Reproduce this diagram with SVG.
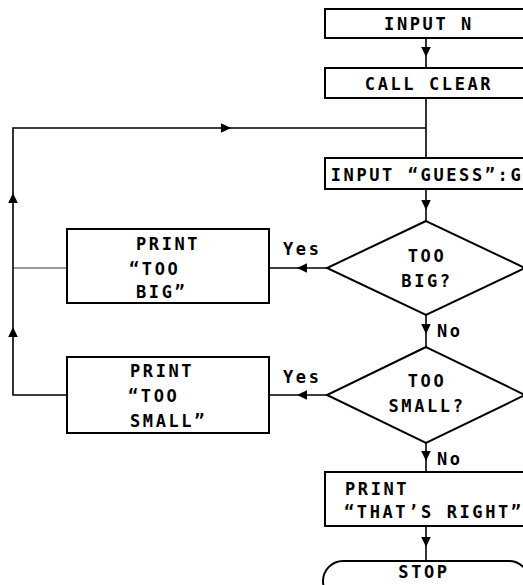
<svg xmlns="http://www.w3.org/2000/svg" xmlns:xlink="http://www.w3.org/1999/xlink" width="523" height="585" viewBox="0 0 523 585">
<style>
.box{fill:#fff;stroke:#000;stroke-width:2}
.ln{fill:none;stroke:#000;stroke-width:1.6}
.thin{fill:none;stroke:#333;stroke-width:1.2}
.t{font-family:"DejaVu Sans Mono","Liberation Mono",monospace;font-weight:bold;font-size:17px;letter-spacing:2.6px;fill:#000}
.c{text-anchor:middle}
</style>
<defs>
<path id="ah" d="M0,0 L-10,-4.8 L-10,4.8 Z" fill="#000"/>
</defs>
<rect width="523" height="585" fill="#fff"/>
<g id="connectors">
<path class="ln" d="M426,38 V68"/>
<use xlink:href="#ah" transform="translate(426,57) rotate(90)"/>
<path class="ln" d="M426,98 V158"/>
<path class="ln" d="M67,395 H13 V128 H426"/>
<use xlink:href="#ah" transform="translate(13,327) rotate(-90)"/>
<use xlink:href="#ah" transform="translate(13,193) rotate(-90)"/>
<use xlink:href="#ah" transform="translate(231,128)"/>
<path class="thin" d="M67,268 H13"/>
<path class="ln" d="M426,189 V221"/>
<use xlink:href="#ah" transform="translate(426,210) rotate(90)"/>
<path class="ln" d="M327,268 H269"/>
<use xlink:href="#ah" transform="translate(297,268) rotate(180)"/>
<text class="t" x="283" y="255">Yes</text>
<path class="ln" d="M426,315 V347"/>
<use xlink:href="#ah" transform="translate(426,334) rotate(90)"/>
<text class="t" x="437" y="337">No</text>
<path class="ln" d="M327,395 H269"/>
<use xlink:href="#ah" transform="translate(297,395) rotate(180)"/>
<text class="t" x="283" y="383">Yes</text>
<path class="ln" d="M426,443 V472"/>
<use xlink:href="#ah" transform="translate(426,461) rotate(90)"/>
<text class="t" x="437" y="465">No</text>
<path class="ln" d="M426,526 V561"/>
<use xlink:href="#ah" transform="translate(426,547) rotate(90)"/>
</g>
<g id="input_n">
<rect class="box" x="325" y="9" width="204" height="29"/>
<text class="t c" x="429" y="30">INPUT N</text>
</g>
<g id="call_clear">
<rect class="box" x="325" y="68" width="204" height="30"/>
<text class="t c" x="429" y="90">CALL CLEAR</text>
</g>
<g id="input_guess">
<rect class="box" x="325" y="158" width="204" height="31"/>
<text class="t c" x="427" y="181">INPUT “GUESS”:G</text>
</g>
<g id="too_big">
<polygon class="box" points="426,221 327,268 426,315 525,268"/>
<text class="t c" x="427" y="262">TOO</text>
<text class="t c" x="427" y="287">BIG?</text>
</g>
<g id="print_too_big">
<rect class="box" x="67" y="229" width="202" height="74"/>
<text class="t" x="136" y="250">PRINT</text>
<text class="t" x="129" y="275">“TOO</text>
<text class="t" x="136" y="298">BIG”</text>
</g>
<g id="too_small">
<polygon class="box" points="426,347 327,395 426,443 525,395"/>
<text class="t c" x="427" y="387">TOO</text>
<text class="t c" x="427" y="412">SMALL?</text>
</g>
<g id="print_too_small">
<rect class="box" x="67" y="357" width="202" height="76"/>
<text class="t" x="130" y="377">PRINT</text>
<text class="t" x="128" y="402">“TOO</text>
<text class="t" x="130" y="427">SMALL”</text>
</g>
<g id="print_right">
<rect class="box" x="325" y="472" width="204" height="54"/>
<text class="t" x="345" y="495">PRINT</text>
<text class="t" x="344" y="518">“THAT’S RIGHT”</text>
</g>
<g id="stop">
<rect class="box" x="323" y="561" width="206" height="40" rx="20" ry="20"/>
<text class="t c" x="424" y="578">STOP</text>
</g>
</svg>
